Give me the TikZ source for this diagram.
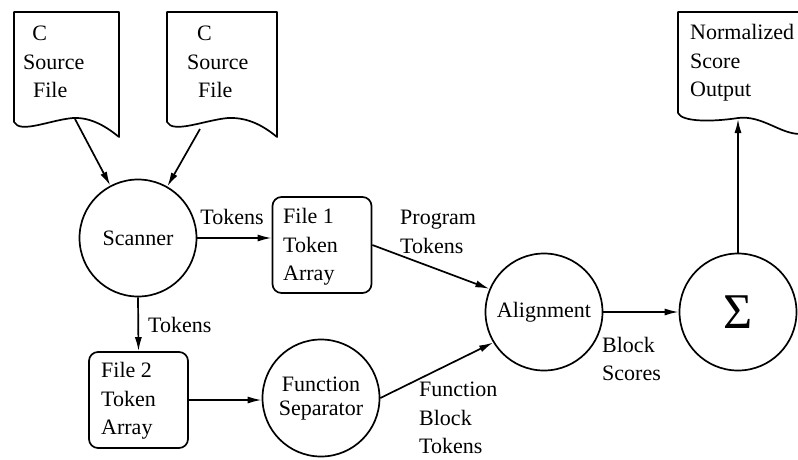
\documentclass[tikz,border=0pt]{standalone}
\usepackage{fontspec}
\setmainfont{Liberation Serif}
\usetikzlibrary{arrows.meta}
\begin{document}
\begin{tikzpicture}[x=1pt,y=-1pt,
  every node/.style={font=\fontsize{22}{28.5}\selectfont, inner sep=0pt},
  ln/.style={line width=1.7pt, line join=round},
  arr/.style={ln, -{Latex[length=14pt,width=7pt]}},
  proc/.style={circle, draw, line width=1.7pt, minimum size=117pt},
  store/.style={rectangle, rounded corners=9pt, draw, line width=1.7pt, minimum width=99pt, minimum height=96pt},
  txt/.style={align=left, anchor=west}]
\useasboundingbox (0,0) rectangle (798,459);
\clip (0,0) rectangle (798,459);
% document shapes
\draw[ln] (14,12) -- (119,12) -- (119,137)
  .. controls (108,128) and (92,117) .. (73,118)
  .. controls (50,120) and (20,134) .. (14,122) -- cycle;
\draw[ln] (167,12) -- (277,12) -- (277,137)
  .. controls (266,128) and (250,117) .. (228,118)
  .. controls (205,120) and (173,134) .. (167,122) -- cycle;
\draw[ln] (800,12) -- (678,12) -- (678,113)
  .. controls (682,122) and (712,122) .. (738,118)
  .. controls (762,115) and (780,134) .. (800,134);
\coordinate (a1) at (75,119);
\coordinate (b1) at (200,129);
\coordinate (o1) at (738,119);
% text of documents
\node[txt] (docA) at (23,62) {\hspace{0.42em}C\\Source\\\hspace{0.45em}File};
\node[txt] (docB) at (187,62) {\hspace{0.45em}C\\Source\\\hspace{0.5em}File};
\node[txt] (out) at (690,63) {Normalized\\Score\\Output};
% processes
\node[proc] (scan) at (138,238) {Scanner};
\node[proc] (sep) at (321,398) {\begin{tabular}{@{}c@{}}Function\\[-4pt]Separator\end{tabular}};
\node[proc] (align) at (544,312) {Alignment};
\node[proc] (sum) at (738,312) {\fontsize{50}{50}\selectfont Σ};
% stores
\node[store] (f1) at (322,245) {};
\node[txt] (f1t) at (283,247) {File 1\\Token\\Array};
\node[store] (f2) at (138.5,400) {};
\node[txt] (f2t) at (101,401) {File 2\\Token\\Array};
% connectors
\draw[arr] (a1) -- (scan);
\draw[arr] (b1) -- (scan);
\draw[arr] (scan.east) -- (scan.east -| f1.west);
\draw[arr] (scan.south) -- (f2.north);
\draw[arr] (f2.east) -- (f2.east -| sep.west);
\draw[arr] (f1.east) -- (align.157);
\draw[arr] (sep.east) -- (align.211);
\draw[arr] (align.east) -- (sum.west);
\draw[arr] (sum.north) -- (o1);
% labels
\node (l1) at (232,217) {Tokens};
\node[txt] (l2) at (148,325) {Tokens};
\node[txt] (l3) at (400,232) {Program\\Tokens};
\node[txt] (l4) at (419,418) {Function\\Block\\Tokens};
\node[txt] (l5) at (602,359) {Block\\Scores};
\end{tikzpicture}
\end{document}
